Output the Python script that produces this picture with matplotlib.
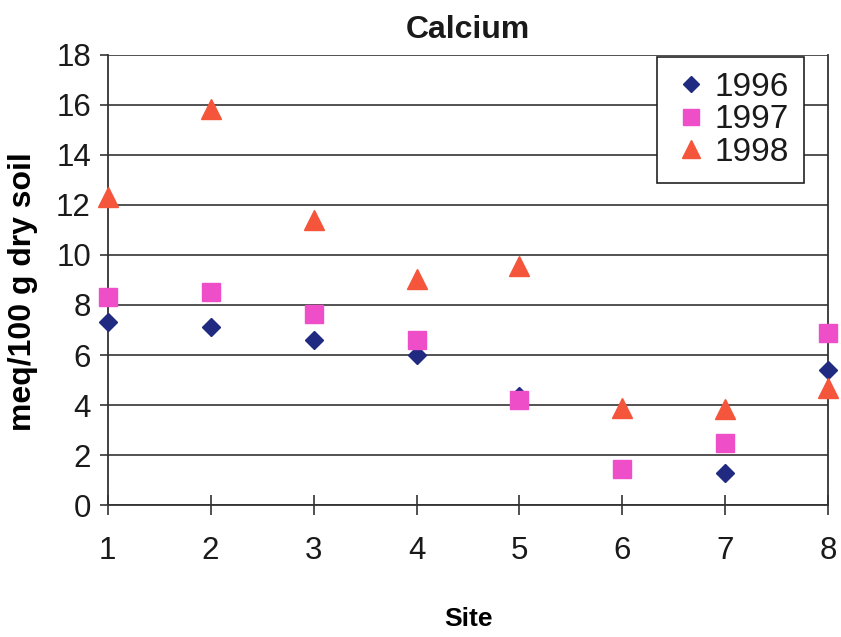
import matplotlib

matplotlib.use("Agg")
import matplotlib.pyplot as plt

# Calcium by site, three sampling years
sites = [1, 2, 3, 4, 5, 6, 7, 8]
ca_1996 = [7.3, 7.1, 6.6, 6.0, 4.35, 1.45, 1.3, 5.4]
ca_1997 = [8.3, 8.5, 7.65, 6.6, 4.2, 1.45, 2.5, 6.9]
ca_1998 = [12.3, 15.85, 11.4, 9.05, 9.55, 3.9, 3.85, 4.7]
y_ticks = list(range(0, 19, 2))

plt.rcParams["font.family"] = ["Liberation Sans", "DejaVu Sans"]
plt.rcParams["text.color"] = "#1a1a1a"

fig = plt.figure(figsize=(8.41, 6.37), dpi=100)
ax = fig.add_axes([0.128, 0.207, 0.857, 0.707])

ax.plot(sites, ca_1996, "D", color="#1f2a80", markersize=9.5, clip_on=False,
        label="1996", zorder=3)
ax.plot(sites, ca_1997, "s", color="#ee4fc9", markersize=13.5, clip_on=False,
        label="1997", zorder=4)
ax.plot(sites, ca_1998, "^", color="#f5553a", markersize=14, clip_on=False,
        label="1998", zorder=5)

ax.set_xlim(1, 8)
ax.set_ylim(0, 18)
ax.set_xticks(sites)
ax.set_yticks(y_ticks)
ax.yaxis.grid(True, color="#444444", linewidth=1.3)
ax.set_axisbelow(True)
for side in ["left", "bottom", "right"]:
    ax.spines[side].set_color("#333333")
    ax.spines[side].set_linewidth(1.3)
ax.spines["top"].set_visible(False)
ax.tick_params(axis="both", labelsize=22.5, width=1.2, color="#333333",
               labelcolor="#1a1a1a")
ax.tick_params(axis="y", length=6, pad=6)
ax.tick_params(axis="x", direction="inout", length=14, pad=15)

ax.set_title("Calcium", fontsize=23, fontweight="bold", pad=12)
ax.set_ylabel("meq/100 g dry soil", fontsize=23, fontweight="bold")
ax.yaxis.set_label_coords(-0.097, 0.473)
ax.set_xlabel("Site", fontsize=19, fontweight="bold")
ax.xaxis.set_label_coords(0.5, -0.226)

leg = ax.legend(loc="upper right", bbox_to_anchor=(0.9655, 0.996), fontsize=24,
                frameon=True, fancybox=False, handletextpad=0.15,
                handlelength=1.1, borderpad=0.45, labelspacing=0.05,
                borderaxespad=0, framealpha=1, markerscale=0.9)
leg.get_frame().set_edgecolor("#222222")
leg.get_frame().set_linewidth(1.2)

fig.savefig("out.png", dpi=100)
